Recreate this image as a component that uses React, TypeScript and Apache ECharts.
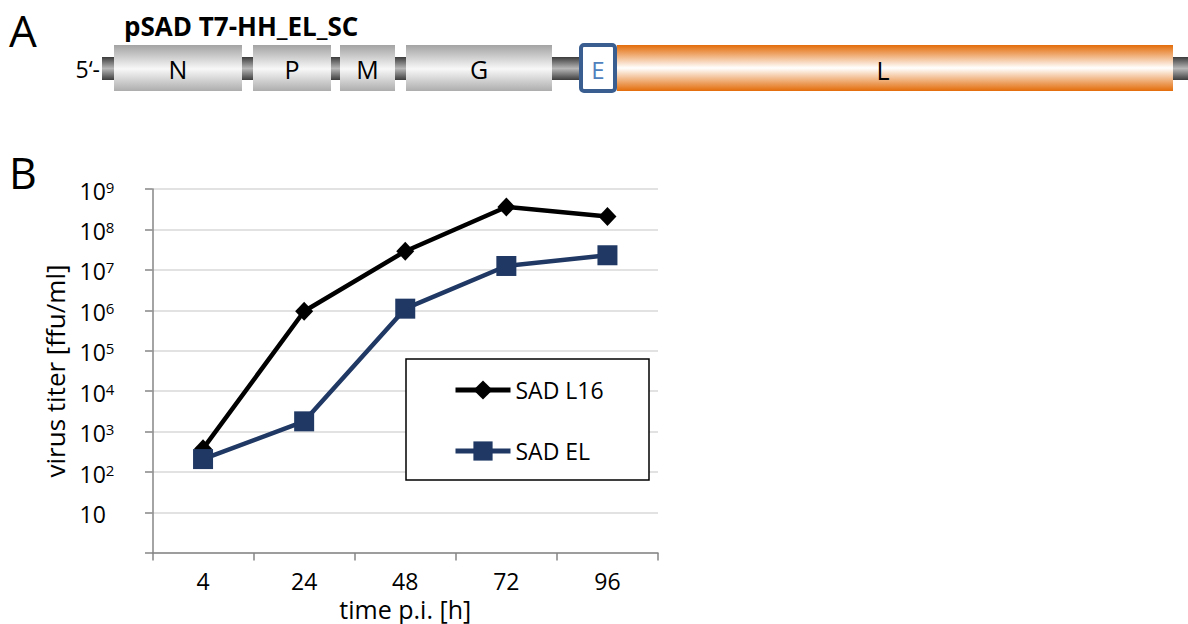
import React, { useEffect, useRef } from 'react';
import * as echarts from 'echarts';

// ---- data ----
const categories = ['4', '24', '48', '72', '96'];
const seriesNames = ['SAD L16', 'SAD EL'];
const sadL16 = [380, 9.5e5, 2.9e7, 3.6e8, 2.1e8];
const sadEL = [210, 1.8e3, 1.1e6, 1.25e7, 2.3e7];
const yMin = 1;
const yMax = 1e9;

// gene map labels
const constructName = 'pSAD T7-HH_EL_SC';
const grayGenes = ['N', 'P', 'M', 'G'];
const markerGene = 'E';
const polymeraseGene = 'L';

const FONT = '"Open Sans", sans-serif';

export default function App() {
  const ref = useRef<HTMLDivElement>(null);

  useEffect(() => {
    const chart = echarts.init(ref.current!, null, { renderer: 'svg' });

    const vgrad = (stops: [number, string][]) => ({
      type: 'linear', x: 0, y: 0, x2: 0, y2: 1,
      colorStops: stops.map(([offset, color]) => ({ offset, color })),
    });
    const grayFill = vgrad([[0, '#a3a3a3'], [0.52, '#f8f8f8'], [1, '#adadad']]);
    const backboneFill = vgrad([[0, '#3c3c3c'], [0.5, '#b8b8b8'], [1, '#3c3c3c']]);
    const orangeFill = vgrad([[0, '#e36c09'], [0.5, '#ffffff'], [1, '#e36c09']]);

    const boxTop = 45;
    const boxH = 46;
    const grayBoxes = [
      [114, 242],
      [253, 331],
      [340, 395],
      [406, 552],
    ];

    const graphics: any[] = [];
    // panel letters
    graphics.push({
      type: 'text', x: 9, y: 30,
      style: { text: 'A', fontSize: 44, fontFamily: FONT, fill: '#000', textAlign: 'left', textVerticalAlign: 'middle' },
    });
    graphics.push({
      type: 'text', x: 9, y: 172,
      style: { text: 'B', fontSize: 43, fontFamily: FONT, fill: '#000', textAlign: 'left', textVerticalAlign: 'middle' },
    });
    // construct name
    graphics.push({
      type: 'text', x: 124, y: 26,
      style: { text: constructName, fontSize: 26, fontWeight: 'bold', fontFamily: FONT, fill: '#000', textAlign: 'left', textVerticalAlign: 'middle' },
    });
    // 5' end
    graphics.push({
      type: 'text', x: 100, y: 69,
      style: { text: '5\u2018-', fontSize: 23, fontFamily: FONT, fill: '#000', textAlign: 'right', textVerticalAlign: 'middle' },
    });
    // backbone
    graphics.push({ type: 'rect', shape: { x: 102, y: 57, width: 1086, height: 23 }, style: { fill: backboneFill } });
    // gray genes
    grayBoxes.forEach(([x0, x1], i) => {
      graphics.push({ type: 'rect', shape: { x: x0, y: boxTop, width: x1 - x0, height: boxH }, style: { fill: grayFill } });
      graphics.push({
        type: 'text', x: (x0 + x1) / 2, y: 69,
        style: { text: grayGenes[i], fontSize: 25, fontFamily: FONT, fill: '#000', textAlign: 'center', textVerticalAlign: 'middle' },
      });
    });
    // E box
    graphics.push({
      type: 'rect', shape: { x: 581, y: 45, width: 34, height: 46, r: 3 },
      style: { fill: '#ffffff', stroke: '#395e8f', lineWidth: 4 },
    });
    graphics.push({
      type: 'text', x: 598, y: 69,
      style: { text: markerGene, fontSize: 24, fontFamily: FONT, fill: '#4f81bd', textAlign: 'center', textVerticalAlign: 'middle' },
    });
    // L
    graphics.push({ type: 'rect', shape: { x: 617, y: boxTop, width: 556, height: boxH }, style: { fill: orangeFill } });
    graphics.push({
      type: 'text', x: 883, y: 70,
      style: { text: polymeraseGene, fontSize: 25, fontFamily: FONT, fill: '#000', textAlign: 'center', textVerticalAlign: 'middle' },
    });
    // legend box
    graphics.push({
      type: 'rect', z: 3, shape: { x: 406, y: 359, width: 243, height: 121 },
      style: { fill: '#ffffff', stroke: '#000000', lineWidth: 1.5 },
    });

    const option: any = {
      animation: false,
      backgroundColor: '#ffffff',
      grid: { left: 152.5, right: 530, top: 189, bottom: 71, containLabel: false, outerBoundsMode: 'none' },
      legend: {
        orient: 'vertical',
        left: 453,
        top: 378,
        padding: 0,
        itemWidth: 55,
        itemHeight: 24,
        itemGap: 37,
        data: seriesNames,
        lineStyle: { width: 5 },
        textStyle: { fontSize: 23, fontFamily: FONT, color: '#000', lineHeight: 24 },
        z: 5,
      },
      xAxis: {
        type: 'category',
        data: categories,
        boundaryGap: true,
        axisLine: { lineStyle: { color: '#868686', width: 1.5 } },
        axisTick: { show: true, length: 7.5, lineStyle: { color: '#868686', width: 1.5 } },
        axisLabel: { fontSize: 23, fontFamily: FONT, color: '#000', margin: 16 },
        splitLine: { show: false },
        name: 'time p.i. [h]',
        nameLocation: 'middle',
        nameGap: 42,
        nameTextStyle: { fontSize: 25, fontFamily: FONT, color: '#000' },
      },
      yAxis: {
        type: 'log',
        logBase: 10,
        min: yMin,
        max: yMax,
        splitNumber: 9,
        axisLine: { show: true, lineStyle: { color: '#868686', width: 1.5 } },
        axisTick: { show: true, length: 7.5, lineStyle: { color: '#868686', width: 1.5 } },
        splitLine: { show: true, lineStyle: { color: '#d9d9d9', width: 1.5 } },
        axisLabel: {
          align: 'left',
          margin: 73,
          fontSize: 23,
          fontFamily: FONT,
          color: '#000',
          padding: [3, 0, 0, 0],
          formatter: (v: number) => {
            const e = Math.round(Math.log10(v));
            if (e <= 0) return '';
            if (e === 1) return '10';
            return '10{s|' + e + '}';
          },
          rich: {
            s: { fontSize: 15, fontFamily: FONT, color: '#000', verticalAlign: 'top' },
          },
        },
        name: 'virus titer [ffu/ml]',
        nameLocation: 'middle',
        nameGap: 85,
        nameRotate: 90,
        nameTextStyle: { fontSize: 26, fontFamily: FONT, color: '#000' },
      },
      series: [
        {
          name: seriesNames[0],
          type: 'line',
          data: sadL16,
          color: '#000000',
          symbol: 'diamond',
          symbolSize: [18, 19],
          lineStyle: { width: 4.5, color: '#000000' },
          itemStyle: { color: '#000000' },
          z: 2,
        },
        {
          name: seriesNames[1],
          type: 'line',
          data: sadEL,
          color: '#1f3864',
          symbol: 'rect',
          symbolSize: 20,
          lineStyle: { width: 4.5, color: '#1f3864' },
          itemStyle: { color: '#1f3864' },
          z: 2,
        },
      ],
      graphic: { elements: graphics },
    };

    chart.setOption(option);
    return () => chart.dispose();
  }, []);

  return (
    <div
      ref={ref}
      style={{ position: 'fixed', left: 0, top: 0, width: 1188, height: 624, background: '#fff' }}
    />
  );
}
